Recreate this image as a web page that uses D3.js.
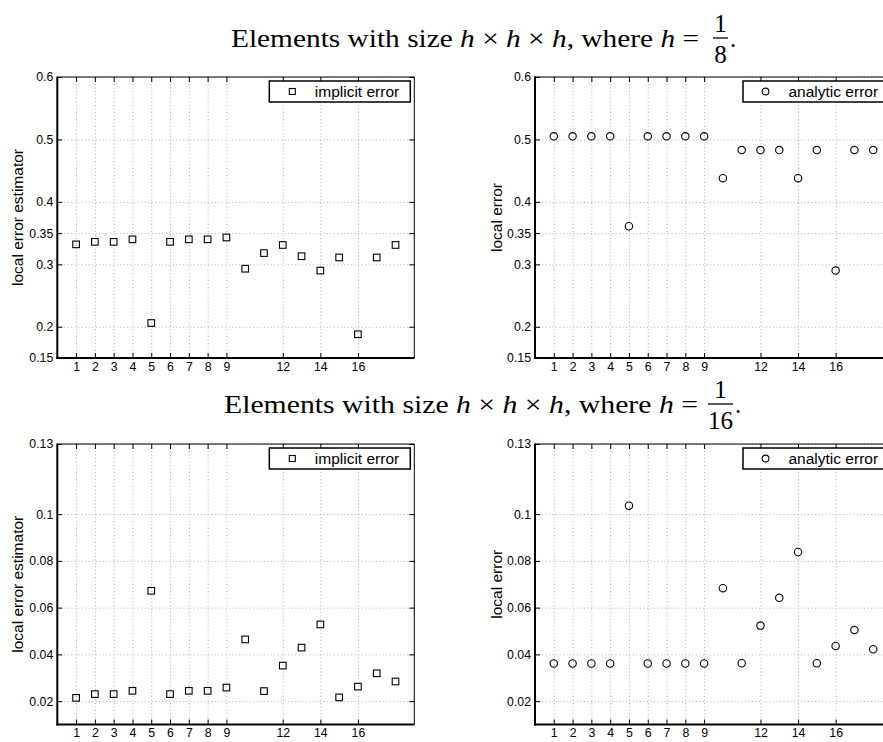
<!DOCTYPE html>
<html>
<head>
<meta charset="utf-8">
<script src="https://cdn.jsdelivr.net/npm/d3@7"></script>
<style>
  body { margin: 0; background: #fff; }
  svg { display: block; }
  .tick text { font-family: "Liberation Sans", Arial, sans-serif; font-size: 12.3px; fill: #000; }
  .grid line { stroke: #999; stroke-dasharray: 1,2.5; stroke-width: 0.8; }
  .grid .domain, .inner .domain { display: none; }
</style>
</head>
<body>
<script>
// ---- data ----
var elementIds  = [1, 2, 3, 4, 5, 6, 7, 8, 9, 10, 11, 12, 13, 14, 15, 16, 17, 18]
var implicitH8  = [0.332, 0.336, 0.336, 0.340, 0.206, 0.336, 0.340, 0.340, 0.343, 0.293, 0.318, 0.331, 0.313, 0.290, 0.311, 0.188, 0.311, 0.331]
var analyticH8  = [0.505, 0.505, 0.505, 0.505, 0.361, 0.505, 0.505, 0.505, 0.505, 0.438, 0.483, 0.483, 0.483, 0.438, 0.483, 0.290, 0.483, 0.483]
var implicitH16 = [0.0214, 0.0230, 0.0230, 0.0244, 0.0672, 0.0230, 0.0244, 0.0244, 0.0258, 0.0464, 0.0243, 0.0352, 0.0429, 0.0528, 0.0216, 0.0262, 0.0319, 0.0284]
var analyticH16 = [0.0361, 0.0361, 0.0361, 0.0361, 0.1036, 0.0361, 0.0361, 0.0361, 0.0361, 0.0683, 0.0362, 0.0523, 0.0642, 0.0838, 0.0362, 0.0436, 0.0504, 0.0422]

var xTicks    = [1, 2, 3, 4, 5, 6, 7, 8, 9, 12, 14, 16]
var yTicksH8  = [0.15, 0.2, 0.3, 0.35, 0.4, 0.5, 0.6]
var yTicksH16 = [0.02, 0.04, 0.06, 0.08, 0.1, 0.13]

var svg = d3.select("body").append("svg")
  .attr("width", 883)
  .attr("height", 742)

var W = 357

// ---- one panel ----
function panel (o) {
  var h = o.bottom - o.top
  var x = d3.scaleLinear().domain([0, 19]).range([0, W])
  var y = d3.scaleLinear().domain(o.ydom).range([h, 0])

  var g = svg.append("g").attr("transform", "translate(" + o.left + "," + o.top + ")")

  // dotted grid
  g.append("g").attr("class", "grid")
    .call(d3.axisBottom(x).tickValues(xTicks).tickSize(h).tickFormat(""))
  g.append("g").attr("class", "grid")
    .call(d3.axisLeft(y).tickValues(o.yticks).tickSize(-W).tickFormat(""))

  // ticks with labels (inward)
  g.append("g").attr("class", "inner").attr("transform", "translate(0," + h + ")")
    .call(d3.axisBottom(x).tickValues(xTicks).tickSize(-5).tickPadding(4).tickFormat(d3.format("d")))
  g.append("g").attr("class", "inner")
    .call(d3.axisTop(x).tickValues(xTicks).tickSize(-5).tickFormat(""))
  g.append("g").attr("class", "inner")
    .call(d3.axisLeft(y).tickValues(o.yticks).tickSize(-5).tickPadding(4).tickFormat(function (d) { return String(d) }))
  g.append("g").attr("class", "inner").attr("transform", "translate(" + W + ",0)")
    .call(d3.axisRight(y).tickValues(o.yticks).tickSize(-5).tickFormat(""))
  g.selectAll(".inner .tick line").attr("stroke", "#000")

  // frame
  g.append("line").attr("x1", 0).attr("x2", W).attr("y1", 0).attr("y2", 0).attr("stroke", "#000").attr("stroke-width", 1)
  g.append("line").attr("x1", W).attr("x2", W).attr("y1", 0).attr("y2", h).attr("stroke", "#000").attr("stroke-width", 1)
  g.append("line").attr("x1", 0).attr("x2", 0).attr("y1", -0.5).attr("y2", h + 1).attr("stroke", "#000").attr("stroke-width", 2)
  g.append("line").attr("x1", -1).attr("x2", W).attr("y1", h).attr("y2", h).attr("stroke", "#000").attr("stroke-width", 2)

  // markers
  var pts = elementIds.map(function (e, i) { return [e, o.values[i]] })
  if (o.shape == "square") {
    g.selectAll("rect.pt").data(pts).enter().append("rect")
      .attr("x", function (d) { return x(d[0]) - 3.3 })
      .attr("y", function (d) { return y(d[1]) - 3.3 })
      .attr("width", 6.6).attr("height", 6.6)
      .attr("fill", "none").attr("stroke", "#000").attr("stroke-width", 1.1)
  } else {
    g.selectAll("circle.pt").data(pts).enter().append("circle")
      .attr("cx", function (d) { return x(d[0]) })
      .attr("cy", function (d) { return y(d[1]) })
      .attr("r", 3.7)
      .attr("fill", "none").attr("stroke", "#000").attr("stroke-width", 1.1)
  }

  // legend
  var lw = o.legendW
  var lg = g.append("g").attr("transform", "translate(" + (W - 4 - lw) + ",4)")
  lg.append("rect").attr("width", lw).attr("height", 21)
    .attr("fill", "#fff").attr("stroke", "#000").attr("stroke-width", 1.5)
  if (o.shape == "square")
    lg.append("rect").attr("x", 20).attr("y", 7.5).attr("width", 6).attr("height", 6)
      .attr("fill", "none").attr("stroke", "#000").attr("stroke-width", 1.1)
  else
    lg.append("circle").attr("cx", 22.5).attr("cy", 10.5).attr("r", 3.4)
      .attr("fill", "none").attr("stroke", "#000").attr("stroke-width", 1.1)
  lg.append("text").attr("x", 45.5).attr("y", 16)
    .style("font-family", "Liberation Sans, Arial, sans-serif").style("font-size", "15.5px")
    .text(o.legend)

  // y label
  g.append("text")
    .attr("transform", "translate(" + (o.ylabX - o.left) + "," + (h / 2) + ") rotate(-90)")
    .attr("text-anchor", "middle")
    .style("font-family", "Liberation Sans, Arial, sans-serif").style("font-size", "15.5px")
    .text(o.ylabel)
}

// ---- titles ----
function title (base, x0, x1, denom) {
  var t = svg.append("text").attr("x", x0).attr("y", base)
    .attr("textLength", x1 - x0).attr("lengthAdjust", "spacingAndGlyphs")
    .style("font-family", "Liberation Serif, Times New Roman, serif").style("font-size", "25px")
  var parts = [["Elements with size ", 0], ["h", 1], [" \u00d7 ", 0], ["h", 1], [" \u00d7 ", 0], ["h", 1], [", where ", 0], ["h", 1], [" =", 0]]
  parts.forEach(function (p) {
    t.append("tspan").style("font-style", p[1] ? "italic" : "normal").text(p[0])
  })
  var cx = 720.5, bar = base - 9
  var bw = denom.length > 1 ? 25 : 15
  svg.append("line").attr("x1", cx - bw / 2).attr("x2", cx + bw / 2).attr("y1", bar).attr("y2", bar)
    .attr("stroke", "#000").attr("stroke-width", 1.3)
  svg.append("text").attr("x", cx).attr("y", bar - 6).attr("text-anchor", "middle")
    .style("font-family", "Liberation Serif, Times New Roman, serif").style("font-size", "25px").text("1")
  svg.append("text").attr("x", cx).attr("y", bar + 25).attr("text-anchor", "middle")
    .style("font-family", "Liberation Serif, Times New Roman, serif").style("font-size", "25px").text(denom)
  svg.append("text").attr("x", cx + bw / 2 + 2).attr("y", base)
    .style("font-family", "Liberation Serif, Times New Roman, serif").style("font-size", "25px").text(".")
}

title(47, 231, 699, "8")
title(413, 224, 698, "16")

panel({ left: 57.3, top: 77, bottom: 358, ydom: [0.15, 0.6], yticks: yTicksH8, values: implicitH8,
        shape: "square", legend: "implicit error", legendW: 141, ylabel: "local error estimator", ylabX: 23 })
panel({ left: 535, top: 77, bottom: 358, ydom: [0.15, 0.6], yticks: yTicksH8, values: analyticH8,
        shape: "circle", legend: "analytic error", legendW: 145, ylabel: "local error", ylabX: 502 })
panel({ left: 57.3, top: 444, bottom: 724.5, ydom: [0.01, 0.13], yticks: yTicksH16, values: implicitH16,
        shape: "square", legend: "implicit error", legendW: 141, ylabel: "local error estimator", ylabX: 23 })
panel({ left: 535, top: 444, bottom: 724.5, ydom: [0.01, 0.13], yticks: yTicksH16, values: analyticH16,
        shape: "circle", legend: "analytic error", legendW: 145, ylabel: "local error", ylabX: 502 })
</script>
</body>
</html>
